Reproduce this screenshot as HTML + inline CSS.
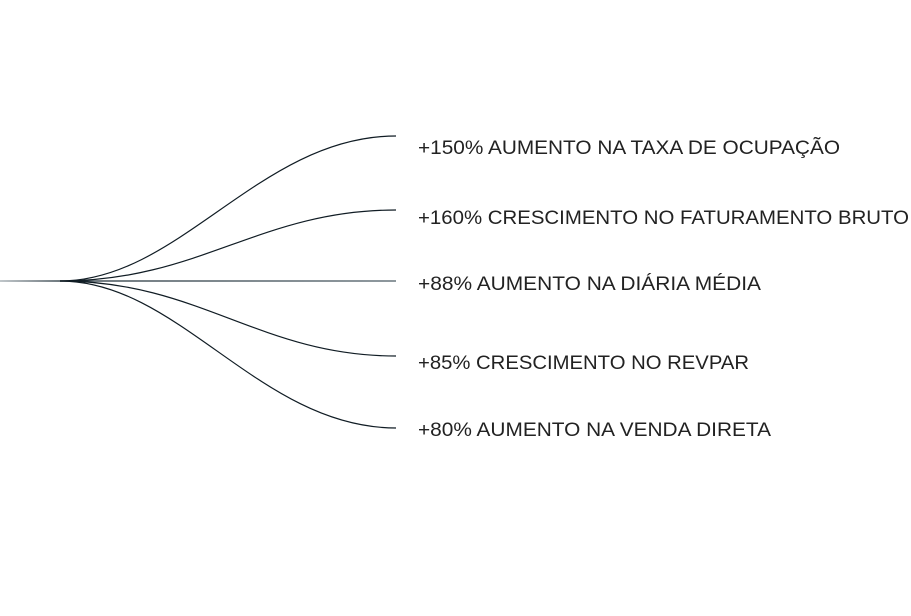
<!DOCTYPE html>
<html><head><meta charset="utf-8"><style>
html,body{margin:0;padding:0;background:#fff;width:911px;height:616px;overflow:hidden}
svg{display:block}
text{font-family:"Liberation Sans",sans-serif;font-size:19.5px;fill:#222}
</style></head><body>
<svg width="911" height="616" viewBox="0 0 911 616">
<defs><linearGradient id="g" gradientUnits="userSpaceOnUse" x1="0" y1="0" x2="396" y2="0"><stop offset="0" stop-color="#9aa4aa"/><stop offset="0.15" stop-color="#1a2a33"/><stop offset="1" stop-color="#4a5a63"/></linearGradient></defs>
<g fill="none" stroke="#101c24" stroke-width="1.2">
<line x1="0" y1="281" x2="396" y2="281" stroke="url(#g)"/>
<path d="M60 281 C 180 281, 260 136, 396 136"/>
<path d="M60 281 C 200 281, 260 210, 396 210"/>
<path d="M60 281 C 200 281, 260 356, 396 356"/>
<path d="M60 281 C 180 281, 260 428, 396 428"/>
</g>
<text x="418" y="154" textLength="422" lengthAdjust="spacingAndGlyphs">+150% AUMENTO NA TAXA DE OCUPAÇÃO</text>
<text x="418" y="224" textLength="491" lengthAdjust="spacingAndGlyphs">+160% CRESCIMENTO NO FATURAMENTO BRUTO</text>
<text x="418" y="290" textLength="343" lengthAdjust="spacingAndGlyphs">+88% AUMENTO NA DIÁRIA MÉDIA</text>
<text x="418" y="369" textLength="331" lengthAdjust="spacingAndGlyphs">+85% CRESCIMENTO NO REVPAR</text>
<text x="418" y="436" textLength="353" lengthAdjust="spacingAndGlyphs">+80% AUMENTO NA VENDA DIRETA</text>
</svg>
</body></html>
